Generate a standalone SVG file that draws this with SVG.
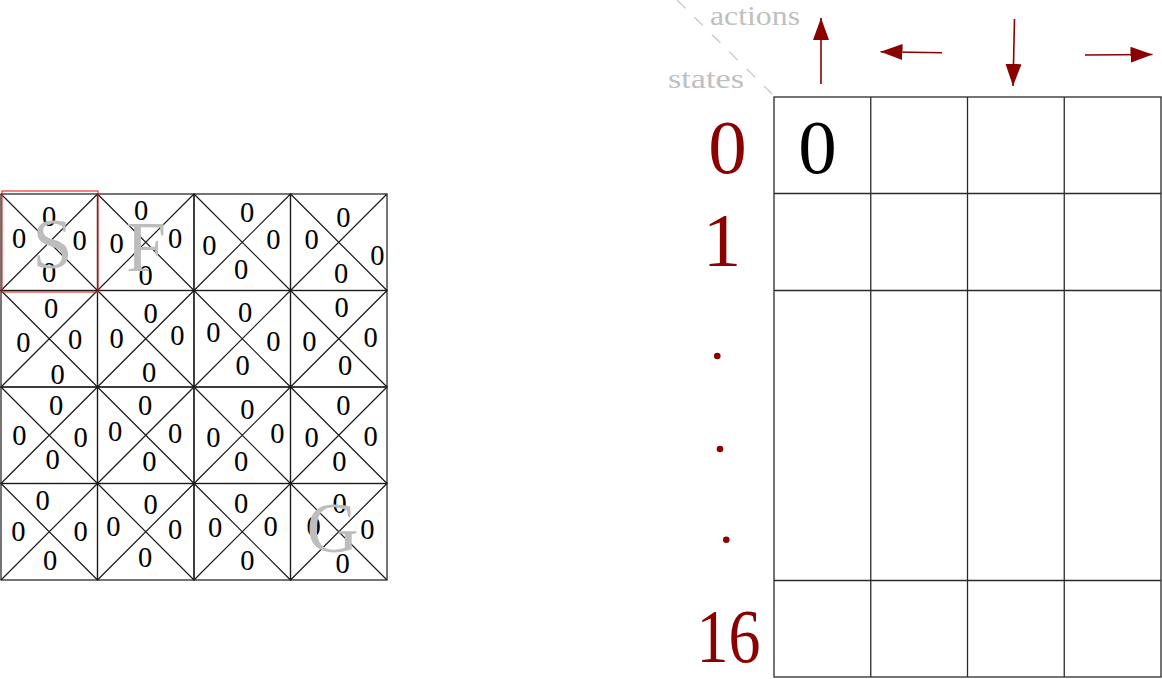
<svg xmlns="http://www.w3.org/2000/svg" width="1162" height="679" viewBox="0 0 1162 679">
<style>
.cell{fill:none;stroke:#1a1a1a;stroke-width:1.2}
.z{font-family:"Liberation Serif",serif;font-size:28.5px;fill:#000;text-anchor:middle}
.big{font-family:"Liberation Serif",serif;font-size:72px;fill:#bdbdbd;text-anchor:middle}
.lab{font-family:"Liberation Serif",serif;font-size:28px;fill:#c0c0c0}
.red{font-family:"Liberation Serif",serif;font-size:77px;fill:#8b0000;text-anchor:middle}
.tb{fill:none;stroke:#2a2a2a;stroke-width:1.3}
.arr{stroke:#8b0000;stroke-width:1.6;fill:none;marker-end:url(#head)}
</style>
<defs>
<marker id="head" markerUnits="userSpaceOnUse" markerWidth="24" markerHeight="17" refX="22" refY="8" orient="auto">
<path d="M0,0 L22,8 L0,16 z" fill="#8b0000"/>
</marker>
</defs>
<g id="gridworld">
<g id="c00"><rect class="cell" x="1" y="194" width="96.5" height="96.5"/><path class="cell" d="M1,194 L97.5,290.5 M97.5,194 L1,290.5"/>
<text class="z" x="49" y="226">0</text><text class="z" x="19" y="248">0</text><text class="z" x="79.5" y="250">0</text><text class="z" x="49" y="282">0</text></g>
<g id="c10"><rect class="cell" x="97.5" y="194" width="96.5" height="96.5"/><path class="cell" d="M97.5,194 L194,290.5 M194,194 L97.5,290.5"/>
<text class="z" x="141" y="220">0</text><text class="z" x="116.5" y="253">0</text><text class="z" x="175" y="248">0</text><text class="z" x="145.5" y="285">0</text></g>
<g id="c20"><rect class="cell" x="194" y="194" width="96.5" height="96.5"/><path class="cell" d="M194,194 L290.5,290.5 M290.5,194 L194,290.5"/>
<text class="z" x="247" y="221.5">0</text><text class="z" x="209.3" y="255">0</text><text class="z" x="273.3" y="249">0</text><text class="z" x="241" y="278.5">0</text></g>
<g id="c30"><rect class="cell" x="290.5" y="194" width="96.5" height="96.5"/><path class="cell" d="M290.5,194 L387,290.5 M387,194 L290.5,290.5"/>
<text class="z" x="343.3" y="227">0</text><text class="z" x="311.7" y="248.5">0</text><text class="z" x="377.3" y="265">0</text><text class="z" x="341" y="282.5">0</text></g>

<g id="c01"><rect class="cell" x="1" y="290.5" width="96.5" height="96.5"/><path class="cell" d="M1,290.5 L97.5,387 M97.5,290.5 L1,387"/>
<text class="z" x="51.2" y="318">0</text><text class="z" x="23.3" y="351.5">0</text><text class="z" x="75" y="348.5">0</text><text class="z" x="57.7" y="383.5">0</text></g>
<g id="c11"><rect class="cell" x="97.5" y="290.5" width="96.5" height="96.5"/><path class="cell" d="M97.5,290.5 L194,387 M194,290.5 L97.5,387"/>
<text class="z" x="150.7" y="323">0</text><text class="z" x="116.7" y="348">0</text><text class="z" x="177.3" y="345">0</text><text class="z" x="149" y="381.5">0</text></g>
<g id="c21"><rect class="cell" x="194" y="290.5" width="96.5" height="96.5"/><path class="cell" d="M194,290.5 L290.5,387 M290.5,290.5 L194,387"/>
<text class="z" x="245" y="321.5">0</text><text class="z" x="213.3" y="342">0</text><text class="z" x="273.3" y="351">0</text><text class="z" x="242.7" y="374.5">0</text></g>
<g id="c31"><rect class="cell" x="290.5" y="290.5" width="96.5" height="96.5"/><path class="cell" d="M290.5,290.5 L387,387 M387,290.5 L290.5,387"/>
<text class="z" x="341.7" y="316.5">0</text><text class="z" x="309.3" y="351">0</text><text class="z" x="370.7" y="346.5">0</text><text class="z" x="345" y="375">0</text></g>

<g id="c02"><rect class="cell" x="1" y="387" width="96.5" height="96.5"/><path class="cell" d="M1,387 L97.5,483.5 M97.5,387 L1,483.5"/>
<text class="z" x="56" y="415">0</text><text class="z" x="19.3" y="444.5">0</text><text class="z" x="80.7" y="447">0</text><text class="z" x="52.7" y="468.5">0</text></g>
<g id="c12"><rect class="cell" x="97.5" y="387" width="96.5" height="96.5"/><path class="cell" d="M97.5,387 L194,483.5 M194,387 L97.5,483.5"/>
<text class="z" x="145" y="415">0</text><text class="z" x="115" y="441">0</text><text class="z" x="175" y="443">0</text><text class="z" x="149.3" y="471">0</text></g>
<g id="c22"><rect class="cell" x="194" y="387" width="96.5" height="96.5"/><path class="cell" d="M194,387 L290.5,483.5 M290.5,387 L194,483.5"/>
<text class="z" x="247.3" y="419">0</text><text class="z" x="213.3" y="447">0</text><text class="z" x="277.3" y="443">0</text><text class="z" x="241" y="471">0</text></g>
<g id="c32"><rect class="cell" x="290.5" y="387" width="96.5" height="96.5"/><path class="cell" d="M290.5,387 L387,483.5 M387,387 L290.5,483.5"/>
<text class="z" x="343.3" y="415">0</text><text class="z" x="311.7" y="446.5">0</text><text class="z" x="370.7" y="445.5">0</text><text class="z" x="339.3" y="471">0</text></g>

<g id="c03"><rect class="cell" x="1" y="483.5" width="96.5" height="96.5"/><path class="cell" d="M1,483.5 L97.5,580 M97.5,483.5 L1,580"/>
<text class="z" x="42.7" y="509.5">0</text><text class="z" x="18.3" y="541">0</text><text class="z" x="80.7" y="540.5">0</text><text class="z" x="50" y="570">0</text></g>
<g id="c13"><rect class="cell" x="97.5" y="483.5" width="96.5" height="96.5"/><path class="cell" d="M97.5,483.5 L194,580 M194,483.5 L97.5,580"/>
<text class="z" x="150.7" y="514">0</text><text class="z" x="113.3" y="535.5">0</text><text class="z" x="175" y="538.5">0</text><text class="z" x="145" y="567">0</text></g>
<g id="c23"><rect class="cell" x="194" y="483.5" width="96.5" height="96.5"/><path class="cell" d="M194,483.5 L290.5,580 M290.5,483.5 L194,580"/>
<text class="z" x="241" y="513">0</text><text class="z" x="215" y="537">0</text><text class="z" x="270.7" y="535.5">0</text><text class="z" x="247.3" y="570">0</text></g>
<g id="c33"><rect class="cell" x="290.5" y="483.5" width="96.5" height="96.5"/><path class="cell" d="M290.5,483.5 L387,580 M387,483.5 L290.5,580"/>
<text class="z" x="339.7" y="513">0</text><text class="z" x="313.7" y="536.3">0</text><text class="z" x="367.3" y="538.5">0</text><text class="z" x="342.7" y="573">0</text></g>

<g id="markers">
<text class="big" x="52.5" y="268">S</text>
<text class="big" x="146" y="271">F</text>
<text class="big" x="332.5" y="552">G</text>
</g>
<rect id="start-highlight" x="2" y="191" width="96" height="101" fill="none" stroke="#e8231f" stroke-width="1.1"/>
</g>

<g id="qtable">
<rect class="tb" x="774" y="97" width="387" height="580"/>
<path class="tb" d="M870.75,97 V677 M967.5,97 V677 M1064.25,97 V677 M774,193.5 H1161 M774,290.5 H1161 M774,580.5 H1161"/>
<text x="817.5" y="173" font-family="Liberation Serif, serif" font-size="77" text-anchor="middle" fill="#000">0</text>
</g>

<g id="header">
<line x1="677" y1="0" x2="772" y2="94" stroke="#c4c4c4" stroke-width="1.2" stroke-dasharray="12 12.5"/>
<text class="lab" x="710" y="25" textLength="90" lengthAdjust="spacingAndGlyphs">actions</text>
<text class="lab" x="668" y="88" textLength="76" lengthAdjust="spacingAndGlyphs">states</text>
</g>

<g id="connectors">
<line class="arr" x1="821" y1="84" x2="821" y2="18"/>
<line class="arr" x1="942" y1="52.7" x2="880.5" y2="51.7"/>
<line class="arr" x1="1014.5" y1="19" x2="1013" y2="86"/>
<line class="arr" x1="1085" y1="55" x2="1152.5" y2="54.5"/>
</g>

<g id="state-labels">
<text class="red" x="727.5" y="173">0</text>
<text class="red" x="722" y="266">1</text>
<circle cx="717.3" cy="356" r="3.3" fill="#8b0000"/>
<circle cx="720" cy="449" r="3.3" fill="#8b0000"/>
<circle cx="726.3" cy="539.7" r="3.3" fill="#8b0000"/>
<text class="red" x="728.5" y="662" textLength="64" lengthAdjust="spacingAndGlyphs">16</text>
</g>
</svg>
